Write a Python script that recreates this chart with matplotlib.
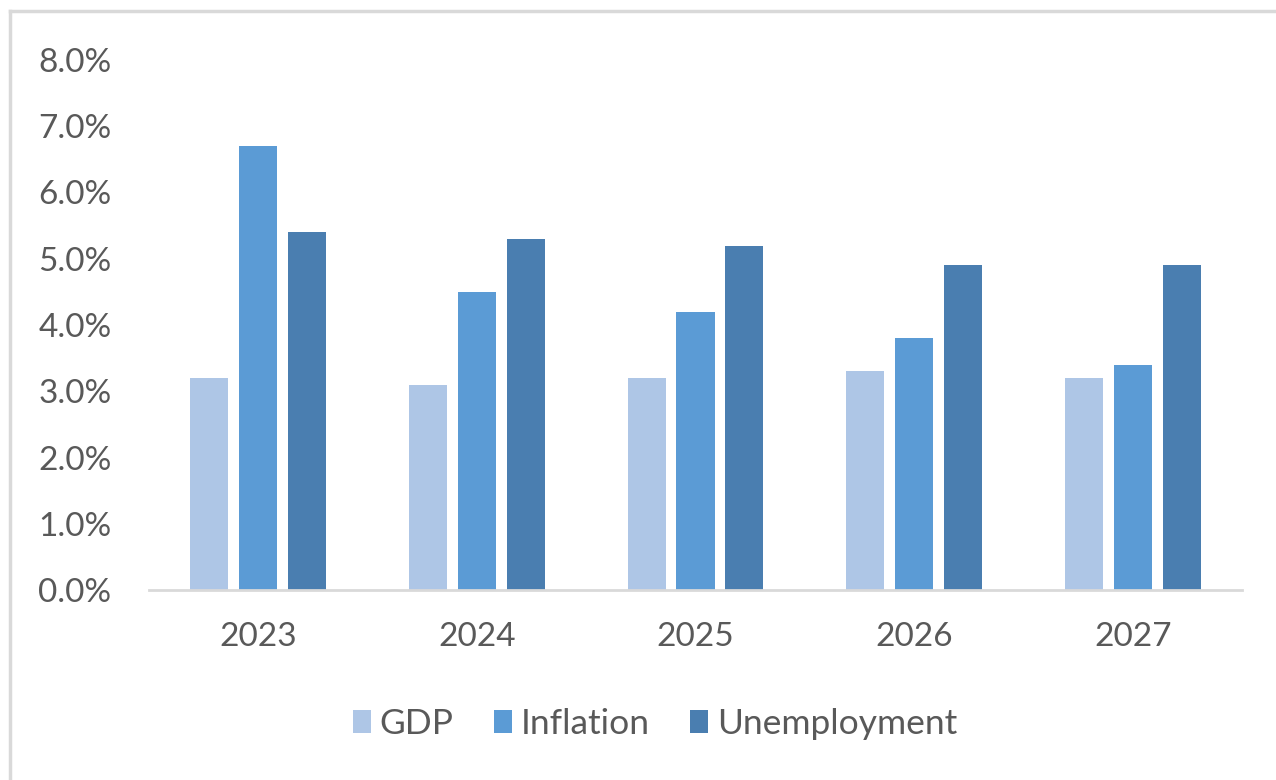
import matplotlib
matplotlib.use("Agg")
import matplotlib.pyplot as plt
import numpy as np
from matplotlib.lines import Line2D
from matplotlib.ticker import FuncFormatter

years = ["2023", "2024", "2025", "2026", "2027"]
gdp = [3.2, 3.1, 3.2, 3.3, 3.2]
inflation = [6.7, 4.5, 4.2, 3.8, 3.4]
unemployment = [5.4, 5.3, 5.2, 4.9, 4.9]
series_names = ["GDP", "Inflation", "Unemployment"]
colors = ["#aec6e6", "#5b9bd5", "#4a7eb0"]

plt.rcParams['font.family'] = ['Lato', 'DejaVu Sans']
text_color = "#595959"

fig = plt.figure(figsize=(12.76, 7.80), dpi=100)
ax = fig.add_axes([149/1276, 1 - 590/780, (1242-149)/1276, (590-60)/780])

x = np.arange(len(years))
bw = 0.174
step = 0.224
for i, (vals, name, c) in enumerate(zip([gdp, inflation, unemployment], series_names, colors)):
    ax.bar(x + (i - 1) * step, vals, width=bw, color=c, label=name, zorder=2)

ax.set_xlim(-0.5, len(years) - 0.5)
ax.set_ylim(0, 8)
ax.set_yticks(np.arange(0, 9, 1))
ax.yaxis.set_major_formatter(FuncFormatter(lambda v, p: f"{v:.1f}%"))
ax.set_xticks(x)
ax.set_xticklabels(years)
for s in ["top", "right", "left"]:
    ax.spines[s].set_visible(False)
ax.spines["bottom"].set_color("#d9d9d9")
ax.spines["bottom"].set_linewidth(2)
ax.tick_params(axis="both", length=0, labelsize=24, colors=text_color)
ax.tick_params(axis="y", pad=27)
ax.tick_params(axis="x", pad=23)

leg = ax.legend(loc="center", bbox_to_anchor=(655/1276, 1 - 724/780),
                bbox_transform=fig.transFigure, ncol=3, frameon=False,
                fontsize=25.5, handlelength=0.5, handleheight=0.65,
                handletextpad=0.25, columnspacing=1.15)
for t in leg.get_texts():
    t.set_color(text_color)

# outer border (top and left visible)
fig.add_artist(Line2D([10/1276, 1.01], [1 - 11/780, 1 - 11/780], transform=fig.transFigure,
                      color="#d9d9d9", linewidth=2.5))
fig.add_artist(Line2D([10/1276, 10/1276], [-0.01, 1 - 11/780], transform=fig.transFigure,
                      color="#d9d9d9", linewidth=2.5))

fig.savefig("out.png", dpi=100)
